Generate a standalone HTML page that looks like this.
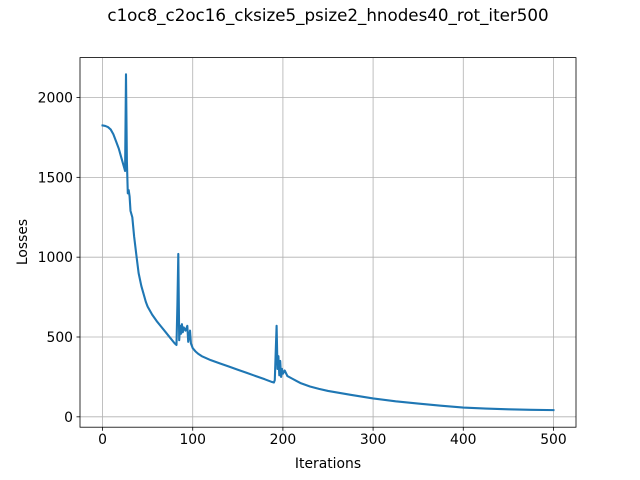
<!DOCTYPE html>
<html><head><meta charset="utf-8"><style>body{margin:0;background:#fff}svg{display:block;font-family:"DejaVu Sans","Liberation Sans",sans-serif}</style></head>
<body>
<svg id="chart" width="640" height="480"></svg>
<script>
const iterations=[0,3,6,9,12,15,18,21,24,25,26,27,28,29,30,31,33,35,38,40,43,45,48,50,55,60,65,70,75,80,82,83,84,85,86,87,88,89,90,92,94,95,97,98,100,103,106,110,120,130,140,150,160,170,180,187,190,191,192,193,194,195,196,197,198,199,200,202,205,210,215,220,230,240,250,275,300,325,350,375,400,425,450,475,500];
const losses=[1825,1822,1815,1800,1770,1725,1680,1620,1560,1540,2145,1600,1400,1420,1380,1290,1250,1130,990,900,820,780,720,690,640,600,565,530,495,460,450,700,1020,480,570,520,580,530,560,540,570,470,540,460,430,410,395,380,355,335,315,295,275,255,235,220,215,230,400,570,300,380,260,350,250,300,270,290,255,240,225,210,190,175,162,138,115,97,83,70,58,52,47,44,42];
const xTicks=[0,100,200,300,400,500];
const yTicks=[0,500,1000,1500,2000];
const NS='http://www.w3.org/2000/svg';
const svg=document.getElementById('chart');
const L=80,R=576,T=57.6,B=427.2;
const xMin=-25,xMax=525,yMin=-65,yMax=2250;
const xs=v=>L+(v-xMin)/(xMax-xMin)*(R-L);
const ys=v=>B-(v-yMin)/(yMax-yMin)*(B-T);
function mk(tag,attrs,text){const e=document.createElementNS(NS,tag);for(const k in attrs)e.setAttribute(k,attrs[k]);if(text!==undefined)e.textContent=text;svg.appendChild(e);return e;}
xTicks.forEach(t=>{const x=xs(t);
const g=mk('line',{x1:x,x2:x,y1:T,y2:B,stroke:'#b0b0b0','stroke-width':0.8});

mk('line',{x1:x,x2:x,y1:B,y2:B+3.5,stroke:'#000','stroke-width':0.8});
const l=mk('text',{x:x,y:B+17,'font-size':'13.9','text-anchor':'middle'},t);
});
yTicks.forEach(t=>{const y=ys(t);
const g=mk('line',{x1:L,x2:R,y1:y,y2:y,stroke:'#b0b0b0','stroke-width':0.8});

mk('line',{x1:L-3.5,x2:L,y1:y,y2:y,stroke:'#000','stroke-width':0.8});
const l=mk('text',{x:L-7,y:y+5,'font-size':'13.9','text-anchor':'end'},t);
});
const d=iterations.map((v,i)=>(i?'L':'M')+xs(v).toFixed(2)+','+ys(losses[i]).toFixed(2)).join('');
const p=mk('path',{d:d,fill:'none',stroke:'#1f77b4','stroke-width':2.1,'stroke-linejoin':'round','stroke-linecap':'square'});

const f=mk('rect',{x:L,y:T,width:R-L,height:B-T,fill:'none',stroke:'#000','stroke-width':0.8});

</script>
<div style="position:absolute;left:0;top:0;width:640px;height:480px;pointer-events:none">
<svg width="640" height="480">
<text x="328" y="21" font-size="16.7" text-anchor="middle" font-family="DejaVu Sans, Liberation Sans, sans-serif">c1oc8_c2oc16_cksize5_psize2_hnodes40_rot_iter500</text>
<text x="328" y="468" font-size="13.9" text-anchor="middle" font-family="DejaVu Sans, Liberation Sans, sans-serif">Iterations</text>
<text x="27" y="242" font-size="13.9" text-anchor="middle" transform="rotate(-90 27 242)" font-family="DejaVu Sans, Liberation Sans, sans-serif">Losses</text>
</svg></div>
</body></html>
